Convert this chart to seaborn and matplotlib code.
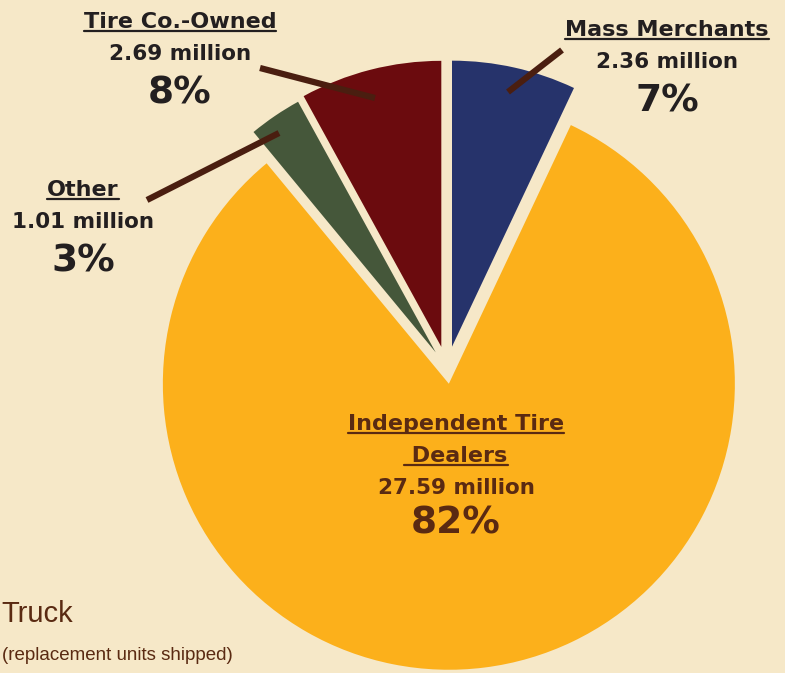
import matplotlib
matplotlib.use("Agg")
import matplotlib.pyplot as plt
import seaborn as sns

# Light truck replacement tire shipments by outlet
segments = ["Mass Merchants", "Independent Tire Dealers", "Other", "Tire Co.-Owned"]
units = [2.36, 27.59, 1.01, 2.69]   # million units
shares = [7, 82, 3, 8]              # percent

colors = ["#26336b", "#fcb01b", "#45573a", "#6b0b0e"]
explode = [0.08, 0.052, 0.07, 0.08]   # fraction of radius

BG = "#f6e8c8"
INK = "#231f20"
BROWN = "#4a1e10"
TXT2 = "#5a2a12"

sns.set_theme(style="white")
plt.rcParams["font.family"] = ["DejaVu Sans"]

W, H = 785, 673
R = 286
fig = plt.figure(figsize=(W / 100, H / 100), dpi=100, facecolor=BG)
ax = fig.add_axes([0, 0, 1, 1])
ax.set_facecolor(BG)


def py(y):
    # pixel row (from top) -> data y
    return H - y


ax.pie(units, colors=colors, explode=[e * R for e in explode], startangle=90,
       counterclock=False, radius=R, center=(447, py(369)), frame=True,
       wedgeprops=dict(linewidth=0))
ax.set_xlim(0, W)
ax.set_ylim(0, H)
ax.set_aspect("equal")
ax.axis("off")

# leader lines
leaders = [((562, 50), (508, 92)),
           ((260, 68), (375, 98)),
           ((147, 200), (279, 133))]
for (x0, y0), (x1, y1) in leaders:
    ax.plot([x0, x1], [py(y0), py(y1)], color=BROWN, lw=4.5, solid_capstyle="butt")

titles = []


def label(x, y_title, name, i, color=INK, gap=(32, 72)):
    t = ax.text(x, py(y_title), name, ha="center", va="center", fontsize=16,
                color=color, fontweight="bold")
    titles.append(t)
    ax.text(x, py(y_title + gap[0]), f"{units[i]:.2f} million", ha="center",
            va="center", fontsize=15.5, color=color, fontweight="bold")
    ax.text(x, py(y_title + gap[1]), f"{shares[i]}%", ha="center", va="center",
            fontsize=27, color=color, fontweight="bold")


label(667, 30, segments[0], 0)
label(180, 22, segments[3], 3)
label(83, 190, segments[2], 2)

# big slice label, two underlined lines
t1 = ax.text(456, py(424), "Independent Tire", ha="center", va="center",
             fontsize=16, color=TXT2, fontweight="bold")
t2 = ax.text(456, py(456), " Dealers", ha="center", va="center",
             fontsize=16, color=TXT2, fontweight="bold")
titles += [t1, t2]
ax.text(456, py(488), f"{units[1]:.2f} million", ha="center", va="center",
        fontsize=15.5, color=TXT2, fontweight="bold")
ax.text(456, py(524), f"{shares[1]}%", ha="center", va="center",
        fontsize=27, color=TXT2, fontweight="bold")

# chart title at bottom left
ax.text(1, py(614), "Truck", ha="left", va="center", fontsize=21,
        color=TXT2, family=["Liberation Sans", "DejaVu Sans"])
ax.text(2, py(655), "(replacement units shipped)", ha="left", va="center",
        fontsize=13.5, color=TXT2, family=["Liberation Sans", "DejaVu Sans"])

# underline titles
fig.canvas.draw()
r = fig.canvas.get_renderer()
inv = ax.transData.inverted()
for t in titles:
    bb = t.get_window_extent(r)
    (x0, y0), (x1, y1) = inv.transform([(bb.x0, bb.y0), (bb.x1, bb.y1)])
    ax.plot([x0, x1], [y0 + 1, y0 + 1], color=t.get_color(), lw=1.6)

fig.savefig("out.png", dpi=100, facecolor=BG)
